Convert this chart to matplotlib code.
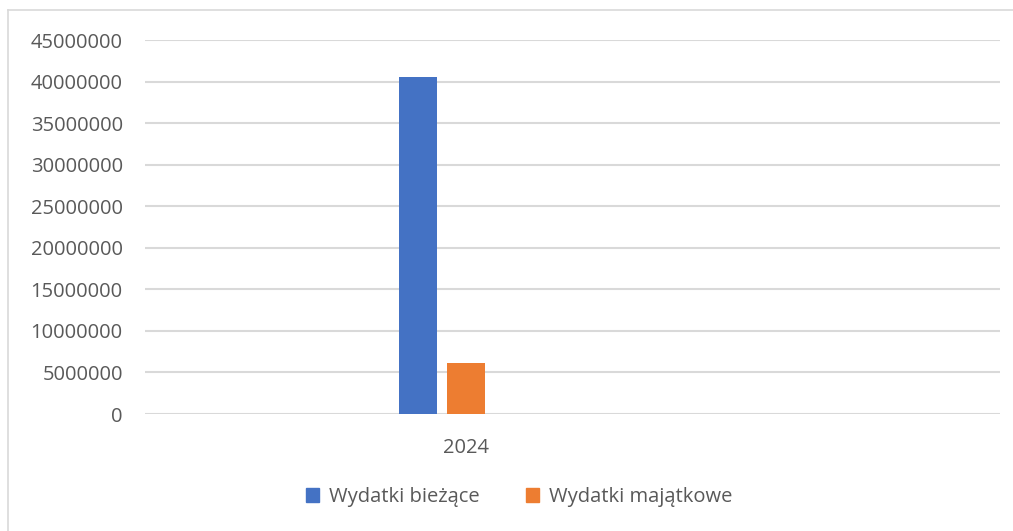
import matplotlib
matplotlib.use("Agg")
import matplotlib.pyplot as plt
from matplotlib.lines import Line2D
from matplotlib.patches import Patch

categories = ["2024"]
series_names = ["Wydatki bieżące", "Wydatki majątkowe"]
wydatki_biezace = [40550000]
wydatki_majatkowe = [6150000]
yticks = list(range(0, 45000001, 5000000))

plt.rcParams['font.family'] = ['Open Sans', 'DejaVu Sans']
text_col = '#595959'
fs = 14.5

W, H = 1013, 531
fig = plt.figure(figsize=(W / 100, H / 100), dpi=100)
ax = fig.add_axes([145 / W, (H - 414) / H, (1000 - 145) / W, (414 - 40) / H])

# kategoria w środku grupy trzech słupków (trzecia seria pusta)
step = 217.0
bw = 38 / step
off = 48 / step
x0 = 0
ax.bar(x0 - off, wydatki_biezace[0], width=bw, color='#4472c4', zorder=3)
ax.bar(x0, wydatki_majatkowe[0], width=bw, color='#ed7d31', zorder=3)

ax.set_xlim(-(466 - 145) / step, (1000 - 466) / step)
ax.set_ylim(0, 45000000)
ax.set_yticks(yticks)
ax.set_yticklabels([str(v) for v in yticks])
ax.set_xticks([x0])
ax.set_xticklabels(categories)
ax.tick_params(axis='y', length=0, pad=16, labelsize=fs, labelcolor=text_col)
ax.tick_params(axis='x', length=0, pad=17, labelsize=fs, labelcolor=text_col)
ax.grid(axis='y', color='#d9d9d9', linewidth=1.5, zorder=0)
for s in ax.spines.values():
    s.set_visible(False)

handles = [Patch(color='#4472c4'), Patch(color='#ed7d31')]
fig.legend(handles, series_names, loc='center', bbox_to_anchor=(519 / W, (H - 497) / H),
           ncol=2, frameon=False, fontsize=fs, labelcolor=text_col,
           handlelength=0.65, handleheight=0.65, handletextpad=0.5, columnspacing=2.3)

# ramka wykresu
fig.add_artist(Line2D([8 / W, 8 / W], [0, (H - 10) / H], color='#d9d9d9', linewidth=1.2))
fig.add_artist(Line2D([8 / W, 1], [(H - 10) / H, (H - 10) / H], color='#d9d9d9', linewidth=1.2))

fig.savefig('out.png', dpi=100)
